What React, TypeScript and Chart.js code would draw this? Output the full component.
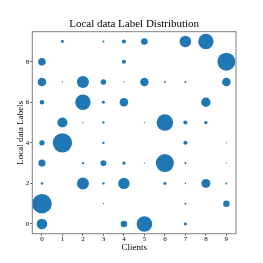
import React, { useEffect, useRef } from 'react';
import { Chart, registerables } from 'chart.js';

Chart.register(...registerables);

const clients = [0, 1, 2, 3, 4, 5, 6, 7, 8, 9];
const labelTicks = [0, 2, 4, 6, 8];
const chartTitle = 'Local data Label Distribution';

// Sample counts per label, one value per client (0 = none)
const label0 = [139, 0, 0, 0, 54, 300, 0, 11, 0, 0];
const label1 = [474, 0, 0, 2, 0, 0, 0, 5, 0, 51];
const label2 = [8, 0, 178, 7, 160, 0, 11, 3, 100, 5];
const label3 = [64, 0, 7, 44, 14, 2, 400, 5, 0, 2];
const label4 = [36, 465, 0, 7, 0, 0, 0, 20, 0, 2];
const label5 = [0, 123, 2, 7, 0, 2, 340, 20, 14, 0];
const label6 = [26, 0, 293, 11, 91, 0, 0, 0, 109, 0];
const label7 = [91, 2, 178, 36, 2, 87, 5, 5, 0, 91];
const label8 = [71, 0, 0, 0, 20, 0, 0, 0, 0, 400];
const label9 = [0, 11, 0, 5, 20, 54, 0, 166, 293, 0];

const countsByLabel = [label0, label1, label2, label3, label4, label5, label6, label7, label8, label9];

const FONT = 'Liberation Serif';
const W = 263;
const H = 263;
const PAD_LEFT = 15;
const PAD_RIGHT = 27;
const PAD_TOP = 31.7;
const PAD_BOTTOM = 9.6;
const AREA_LEFT = 32.3;
const AREA_BOTTOM = 233.7;
const TITLE_Y = 23.8;

export default function App() {
  const ref = useRef<HTMLCanvasElement>(null);

  useEffect(() => {
    if (!ref.current) return;
    const points: { x: number; y: number; r: number }[] = [];
    countsByLabel.forEach((row, label) => {
      row.forEach((count, ci) => {
        if (count > 0) points.push({ x: clients[ci], y: label, r: Math.sqrt(count) * 0.45 });
      });
    });

    const frame = {
      id: 'frame',
      afterDatasetsDraw(chart: any) {
        const { ctx, chartArea: a } = chart;
        ctx.save();
        ctx.strokeStyle = '#808080';
        ctx.lineWidth = 1;
        ctx.strokeRect(a.left, a.top, a.right - a.left, a.bottom - a.top);
        ctx.fillStyle = '#000';
        ctx.font = `11px "${FONT}"`;
        ctx.textAlign = 'center';
        ctx.textBaseline = 'middle';
        ctx.fillText(chartTitle, (a.left + a.right) / 2, TITLE_Y);
        ctx.restore();
      },
    };

    const chart = new Chart(ref.current, {
      type: 'bubble',
      data: {
        datasets: [
          {
            data: points,
            backgroundColor: '#1f77b4',
            borderWidth: 0,
            hoverBorderWidth: 0,
          },
        ],
      },
      options: {
        responsive: false,
        animation: false,
        events: [],
        layout: {
          autoPadding: false,
          padding: { left: PAD_LEFT, right: PAD_RIGHT, top: PAD_TOP, bottom: PAD_BOTTOM },
        },
        plugins: {
          legend: { display: false },
          tooltip: { enabled: false },
          title: { display: false },
        },
        scales: {
          x: {
            type: 'linear',
            min: -0.47,
            max: 9.47,
            afterBuildTicks: (s: any) => {
              s.ticks = clients.map((v) => ({ value: v }));
            },
            afterFit: (s: any) => {
              s.height = H - PAD_BOTTOM - AREA_BOTTOM;
            },
            ticks: {
              color: '#000',
              font: { family: FONT, size: 7, lineHeight: 1 },
              padding: 0,
              maxRotation: 0,
              autoSkip: false,
            },
            grid: { display: true, drawOnChartArea: false, drawTicks: true, tickLength: 2, color: '#555' },
            border: { display: false },
            title: {
              display: true,
              text: 'Clients',
              color: '#000',
              font: { family: FONT, size: 9, lineHeight: 1.2 },
              padding: 0,
            },
          },
          y: {
            type: 'linear',
            min: -0.48,
            max: 9.48,
            afterBuildTicks: (s: any) => {
              s.ticks = labelTicks.map((v) => ({ value: v }));
            },
            afterFit: (s: any) => {
              s.width = AREA_LEFT - PAD_LEFT;
            },
            ticks: {
              color: '#000',
              font: { family: FONT, size: 7, lineHeight: 1 },
              padding: 1,
              autoSkip: false,
            },
            grid: { display: true, drawOnChartArea: false, drawTicks: true, tickLength: 2, color: '#555' },
            border: { display: false },
            title: {
              display: true,
              text: 'Local data Labels',
              color: '#000',
              font: { family: FONT, size: 9, lineHeight: 1.2 },
              padding: 0,
            },
          },
        },
      } as any,
      plugins: [frame],
    });

    return () => chart.destroy();
  }, []);

  return (
    <div style={{ position: 'fixed', left: 0, top: 0, width: W, height: H, background: '#fff' }}>
      <canvas ref={ref} width={W} height={H} style={{ display: 'block', width: W, height: H }} />
    </div>
  );
}
